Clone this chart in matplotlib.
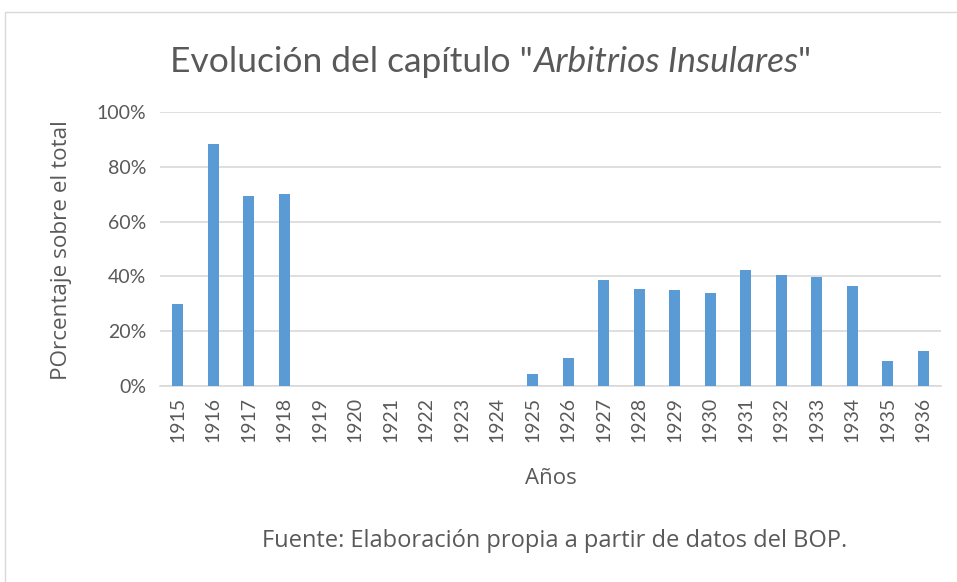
import matplotlib
matplotlib.use('Agg')
import matplotlib.pyplot as plt
from matplotlib.patches import Rectangle
from matplotlib.ticker import PercentFormatter

# Data
years = ['1915', '1916', '1917', '1918', '1919', '1920', '1921', '1922', '1923', '1924', '1925',
         '1926', '1927', '1928', '1929', '1930', '1931', '1932', '1933', '1934', '1935', '1936']
shares = [0.298, 0.883, 0.695, 0.700, 0, 0, 0, 0, 0, 0, 0.043,
          0.102, 0.386, 0.354, 0.350, 0.338, 0.424, 0.405, 0.398, 0.365, 0.090, 0.127]
yticks = [0, 0.2, 0.4, 0.6, 0.8, 1.0]

plt.rcParams['font.family'] = ['Lato', 'DejaVu Sans']
txt_color = '#595959'
label_font = ['Open Sans', 'DejaVu Sans']

fig = plt.figure(figsize=(9.57, 5.82), dpi=100)
ax = fig.add_axes([160 / 957, 1 - 386 / 582, 781 / 957, 274 / 582])

# Chart border
fig.patches.append(Rectangle((5 / 957, -0.05), 1.1, 1 - 12 / 582 + 0.05, transform=fig.transFigure,
                             fill=False, edgecolor='#D9D9D9', linewidth=1))

# Bars
x = range(len(years))
ax.bar(x, shares, width=0.31, color='#5B9BD5', zorder=3)

ax.set_xlim(-0.5, len(years) - 0.5)
ax.set_ylim(0, 1)
ax.set_yticks(yticks)
ax.yaxis.set_major_formatter(PercentFormatter(1.0, decimals=0))
ax.set_xticks(list(x))
ax.set_xticklabels(years, rotation=90)
ax.grid(axis='y', color='#D9D9D9', linewidth=1.2, zorder=0)
for s in ['top', 'right', 'left']:
    ax.spines[s].set_visible(False)
ax.spines['bottom'].set_color('#D9D9D9')
ax.spines['bottom'].set_linewidth(1.2)
ax.tick_params(axis='both', length=0, labelsize=14, colors=txt_color, pad=8)
ax.tick_params(axis='y', pad=10)

# Axis titles
fig.text(62 / 957, 1 - 250 / 582, 'POrcentaje sobre el total', rotation=90, family=label_font,
         ha='center', va='center', fontsize=16.2, color=txt_color)
fig.text(551 / 957, 1 - 478 / 582, 'Años', ha='center', va='center', fontsize=16,
         family=label_font, color=txt_color)
fig.text(555 / 957, 1 - 541 / 582, 'Fuente: Elaboración propia a partir de datos del BOP.',
         ha='center', va='center', fontsize=17, family=label_font, color=txt_color)

# Title with italic part
parts = [('Evolución del capítulo "', 'normal'), ('Arbitrios Insulares', 'italic'), ('"', 'normal')]
renderer = fig.canvas.get_renderer()
xpos = 170 / 957
ybase = 1 - 72 / 582
for s, style in parts:
    t = fig.text(xpos, ybase, s, fontsize=25.5, style=style, color=txt_color,
                 ha='left', va='baseline')
    bb = t.get_window_extent(renderer)
    xpos = bb.x1 / fig.bbox.width

fig.savefig('out.png', dpi=100)
